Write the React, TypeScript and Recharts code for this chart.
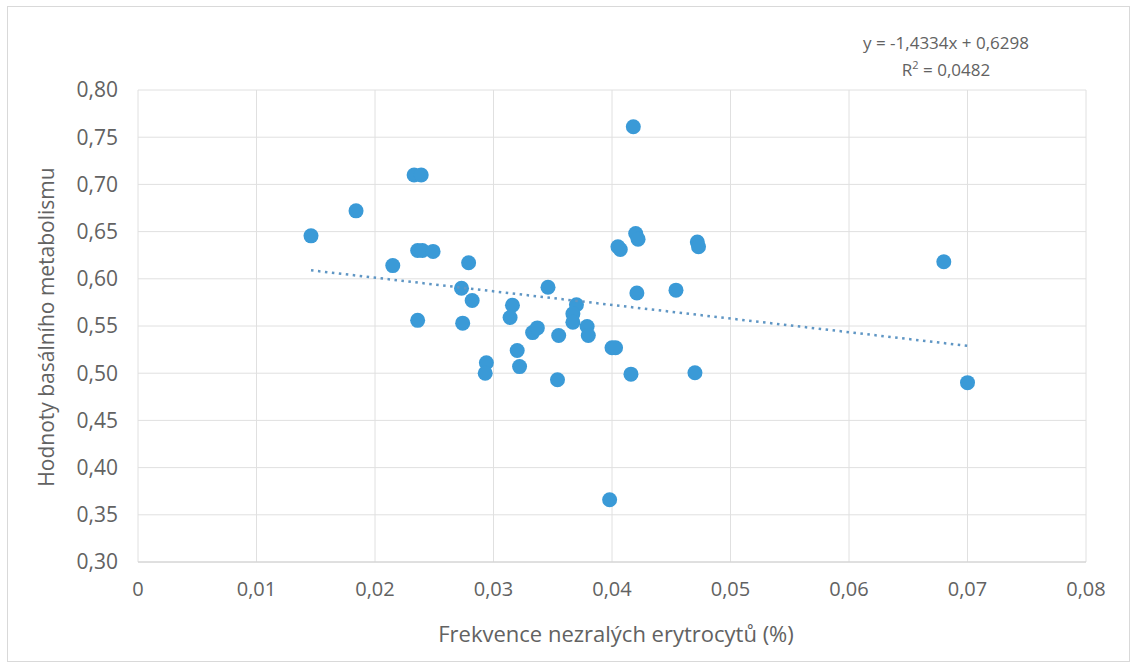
import React from 'react';
import {
  ScatterChart,
  Scatter,
  XAxis,
  YAxis,
  CartesianGrid,
} from 'recharts';

// values
const xValues = [
  0.0146, 0.0184, 0.0233, 0.0239, 0.0236, 0.024, 0.0249, 0.0215, 0.0279, 0.0273,
  0.0282, 0.0236, 0.0274, 0.0294, 0.0293, 0.0346, 0.0316, 0.0314, 0.032, 0.0322,
  0.0333, 0.0337, 0.0355, 0.0354, 0.037, 0.0367, 0.0367, 0.0379, 0.038, 0.04,
  0.0403, 0.0398, 0.0418, 0.0405, 0.0407, 0.042, 0.0422, 0.0421, 0.0416, 0.0454,
  0.0472, 0.0473, 0.047, 0.068, 0.07,
];

const yValues = [
  0.6455, 0.672, 0.71, 0.71, 0.63, 0.63, 0.629, 0.614, 0.617, 0.59,
  0.577, 0.556, 0.553, 0.511, 0.5, 0.591, 0.572, 0.559, 0.524, 0.507,
  0.543, 0.548, 0.54, 0.493, 0.5725, 0.563, 0.554, 0.5495, 0.54, 0.527,
  0.527, 0.366, 0.761, 0.634, 0.631, 0.648, 0.642, 0.585, 0.499, 0.588,
  0.639, 0.634, 0.5005, 0.618, 0.49,
];

// end points of the dotted linear trend line
const trendX = [0.0146, 0.07];
const trendY = [0.609, 0.529];

const xTicks = [0, 0.01, 0.02, 0.03, 0.04, 0.05, 0.06, 0.07, 0.08];
const yTicks = [0.3, 0.35, 0.4, 0.45, 0.5, 0.55, 0.6, 0.65, 0.7, 0.75, 0.8];

const points = xValues.map((x, i) => ({ x, y: yValues[i] }));
const trend = trendX.map((x, i) => ({ x, y: trendY[i] }));

const FONT = '"Open Sans", sans-serif';
const TEXT = '#626262';
const GRID = '#e0e0e0';

const fmtX = (v: number) => (v === 0 ? '0' : v.toFixed(2).replace('.', ','));
const fmtY = (v: number) => v.toFixed(2).replace('.', ',');

function Dot(props: { cx?: number; cy?: number }) {
  const { cx, cy } = props;
  if (cx == null || cy == null) return <g />;
  return <circle cx={cx} cy={cy} r={7.5} fill="#3a9ad7" />;
}

export default function App() {
  return (
    <div style={{ position: 'relative', width: 1137, height: 668, background: '#fff', fontFamily: FONT }}>
      <style>{'body{margin:0}'}</style>
      <div
        style={{
          position: 'absolute',
          left: 7,
          top: 6,
          width: 1121,
          height: 654,
          border: '1px solid #d9d9d9',
        }}
      />
      <ScatterChart width={1137} height={668} margin={{ top: 90, right: 51, bottom: 0, left: 0 }}>
        <CartesianGrid stroke={GRID} strokeWidth={1} />
        <XAxis
          type="number"
          dataKey="x"
          domain={[0, 0.08]}
          ticks={xTicks}
          tickFormatter={fmtX}
          height={106}
          stroke="#d0d0d0"
          tickLine={false}
          tickSize={8}
          tickMargin={12}
          tick={{ fill: TEXT, fontSize: 20, fontFamily: FONT }}
        />
        <YAxis
          type="number"
          dataKey="y"
          domain={[0.3, 0.8]}
          ticks={yTicks}
          tickFormatter={fmtY}
          width={138}
          axisLine={false}
          tickLine={false}
          tickSize={8}
          tickMargin={12}
          tick={{ fill: TEXT, fontSize: 21, fontFamily: FONT }}
        />
        <Scatter data={points} fill="#3a9ad7" shape={<Dot />} isAnimationActive={false} />
        <Scatter
          data={trend}
          line={{ stroke: '#5f96c4', strokeWidth: 2.5, strokeDasharray: '2.5 4.5' }}
          shape={() => <g />}
          isAnimationActive={false}
        />
      </ScatterChart>
      <div
        style={{
          position: 'absolute',
          left: 46,
          top: 327,
          transform: 'translate(-50%, -50%) rotate(-90deg)',
          whiteSpace: 'nowrap',
          color: TEXT,
          fontSize: 21,
        }}
      >
        Hodnoty basálního metabolismu
      </div>
      <div
        style={{
          position: 'absolute',
          left: 616,
          top: 633,
          transform: 'translate(-50%, -50%)',
          whiteSpace: 'nowrap',
          color: TEXT,
          fontSize: 22,
        }}
      >
        Frekvence nezralých erytrocytů (%)
      </div>
      <div
        style={{
          position: 'absolute',
          left: 946,
          top: 56,
          transform: 'translate(-50%, -50%)',
          whiteSpace: 'nowrap',
          color: TEXT,
          fontSize: 17,
          lineHeight: '27px',
          textAlign: 'center',
        }}
      >
        <div>y = -1,4334x + 0,6298</div>
        <div>
          R<sup style={{ fontSize: 11, lineHeight: 0 }}>2</sup> = 0,0482
        </div>
      </div>
    </div>
  );
}
